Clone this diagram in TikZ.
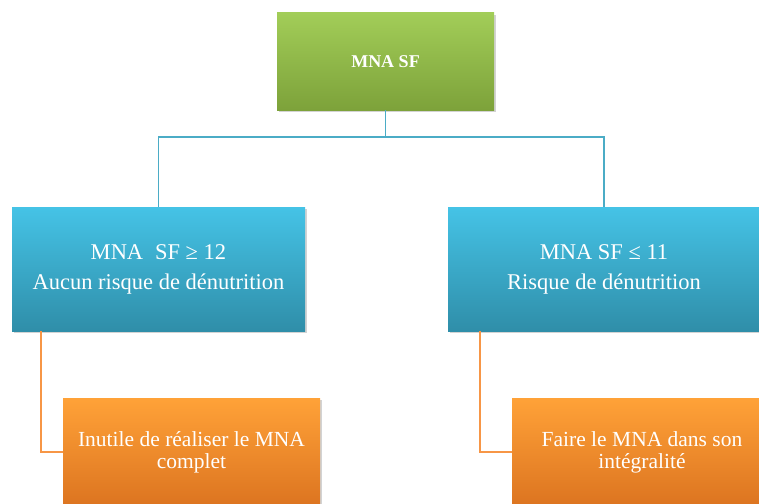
\documentclass[tikz,border=0pt]{standalone}
\usepackage{fontspec}
\setmainfont{Liberation Serif}
\usetikzlibrary{shadows}
\definecolor{greentop}{HTML}{A2CD58}
\definecolor{greenbot}{HTML}{7DA23A}
\definecolor{bluetop}{HTML}{45C3E6}
\definecolor{bluebot}{HTML}{2F8EA9}
\definecolor{bluelink}{HTML}{4BACC6}
\definecolor{orangetop}{HTML}{FFA238}
\definecolor{orangebot}{HTML}{DC7420}
\definecolor{orangelink}{HTML}{F79646}
\begin{document}
\begin{tikzpicture}[x=1pt,y=-1pt,
  box/.style={minimum width=#1, inner sep=0pt, align=center, text=white,
    drop shadow={opacity=.35, shadow xshift=1.5pt, shadow yshift=-2pt}},
  greenbox/.style={box=217pt, minimum height=97pt, top color=greentop, bottom color=greenbot,
    font=\fontsize{18}{20}\selectfont\bfseries},
  bluebox/.style={box=#1, minimum height=124pt, top color=bluetop, bottom color=bluebot,
    font=\fontsize{22.5}{30}\selectfont},
  orangebox/.style={box=#1, minimum height=108pt, top color=orangetop, bottom color=orangebot,
    font=\fontsize{21.5}{22}\selectfont},
  bluewire/.style={bluelink, line width=1.6pt},
  orangewire/.style={orangelink, line width=1.6pt}]
  \useasboundingbox (0,0) rectangle (759,503);
  \clip (0,0) rectangle (759,503);
  % boxes
  \node[greenbox] (mna) at (385.5,61.5) {MNA SF};
  \node[bluebox=293pt] (ok) at (158.5,269) {MNA\; SF ≥ 12\\Aucun risque de dénutrition};
  \node[bluebox=312pt] (risk) at (604,269) {MNA SF ≤ 11\\Risque de dénutrition};
  \node[orangebox=257pt] (partial) at (191.5,452) {Inutile de réaliser le MNA\\complet};
  \node[orangebox=260pt] (full) at (642,452) {Faire le MNA dans son\\intégralité};
  % connectors
  \coordinate (split) at (385.5,137);
  \draw[bluewire] (mna.south) -- (split) -| (ok.north);
  \draw[bluewire] (split) -| (risk.north);
  \draw[orangewire] ([xshift=29pt]ok.south west) |- (partial.west);
  \draw[orangewire] ([xshift=32pt]risk.south west) |- (full.west);
\end{tikzpicture}
\end{document}
